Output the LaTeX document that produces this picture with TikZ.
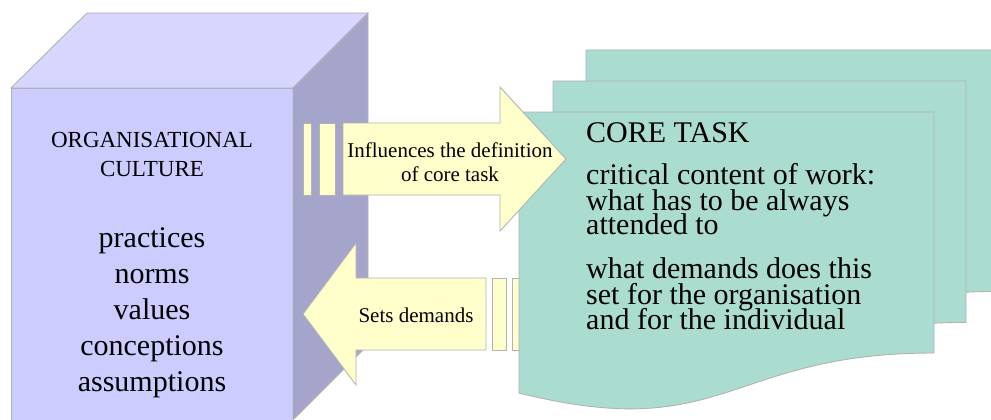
\documentclass[tikz,border=0pt]{standalone}
\usepackage{fontspec}
\setmainfont{Liberation Serif}
\definecolor{edgegray}{RGB}{178,178,178}
\definecolor{cubefront}{RGB}{204,204,255}
\definecolor{cubetop}{RGB}{214,214,255}
\definecolor{cubeside}{RGB}{165,165,204}
\definecolor{arrowfill}{RGB}{255,255,204}
\definecolor{docfill}{RGB}{170,221,208}
\begin{document}
\begin{tikzpicture}[x=1pt,y=-1pt,
  outline/.style={draw=edgegray, line width=0.9pt, line join=miter},
  face/.style={outline, fill=#1},
  blockarrow/.style={outline, fill=arrowfill},
  sheet/.style={outline, fill=docfill},
  cubetitle/.style={inner sep=0pt, anchor=base, font=\fontsize{23}{28}\selectfont},
  cubeword/.style={inner sep=0pt, anchor=base, font=\fontsize{30}{36}\selectfont},
  arrowlabel/.style={inner sep=0pt, anchor=base, font=\fontsize{21}{24}\selectfont},
  sheettext/.style={inner sep=0pt, anchor=base west, font=\fontsize{30}{25}\selectfont}]
\clip (0,0) rectangle (991,420);

% culture cube
\path[face=cubefront] (11,88) -- (293,88) -- (293,425) -- (11,425) -- cycle;
\path[face=cubetop] (11,88) -- (87,13) -- (368,13) -- (293,88) -- cycle;
\path[face=cubeside] (293,88) -- (368,13) -- (368,345) -- (293,420) -- cycle;

\node[cubetitle] (ct1) at (152,147) {ORGANISATIONAL};
\node[cubetitle] (ct2) at (152,176) {CULTURE};
\foreach \w [count=\i] in {practices,norms,values,conceptions,assumptions}
  \node[cubeword] (cw\i) at (152,{247+36*(\i-1)}) {\w};

% arrow back towards the culture
\path[blockarrow] (486,278) -- (356,278) -- (356,243) -- (303,314)
  -- (356,385) -- (356,350) -- (486,350) -- cycle;
\path[blockarrow] (492,278) rectangle (506,350);
\path[blockarrow] (512,278) rectangle (524,350);
\node[arrowlabel] (setsdem) at (416,322) {Sets demands};

% stack of core task sheets
\path[sheet] (586,50) -- (998,50) -- (998,291.4)
  .. controls (792,291.4) and (792,383.4) .. (586,331.1) -- cycle;
\path[sheet] (553,81) -- (966,81) -- (966,322.4)
  .. controls (759.5,322.4) and (759.5,414.4) .. (553,362.1) -- cycle;
\path[sheet] (519,112) -- (934,112) -- (934,353)
  .. controls (726.5,353) and (726.5,444.8) .. (519,393) -- cycle;

\node[sheettext] (core) at (586,142) {CORE TASK};
\node[sheettext] (cc1) at (586,184) {critical content of work:};
\node[sheettext] (cc2) at (586,210) {what has to be always};
\node[sheettext] (cc3) at (586,234) {attended to};
\node[sheettext] (dm1) at (586,278) {what demands does this};
\node[sheettext] (dm2) at (586,304) {set for the organisation};
\node[sheettext] (dm3) at (586,329) {and for the individual};

% arrow from the culture to the core task
\path[blockarrow] (303,123) rectangle (311,195);
\path[blockarrow] (319,123) rectangle (335,195);
\path[blockarrow] (343,123) -- (500,123) -- (500,87) -- (566,159)
  -- (500,231) -- (500,195) -- (343,195) -- cycle;
\node[arrowlabel] (infl1) at (450,157) {Influences the definition};
\node[arrowlabel] (infl2) at (450,181) {of core task};
\end{tikzpicture}
\end{document}
